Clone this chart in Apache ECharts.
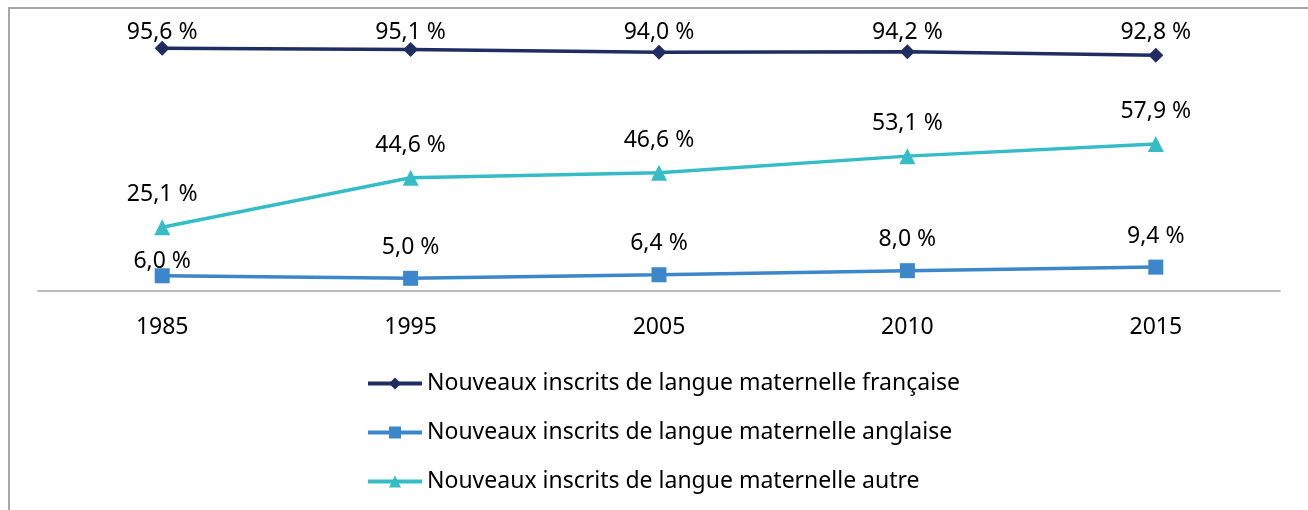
<!DOCTYPE html>
<html>
<head>
<meta charset="utf-8">
<script src="https://cdn.jsdelivr.net/npm/echarts@6/dist/echarts.min.js"></script>
<style>
    html, body { margin: 0; padding: 0; background: #fff; }
    #chart { width: 1308px; height: 510px; }
</style>
</head>
<body>
<div id="chart"></div>
<script>
    // années
    var years = ['1985', '1995', '2005', '2010', '2015'];
    // part des nouveaux inscrits (%)
    var francais = [95.6, 95.1, 94.0, 94.2, 92.8];
    var anglais = [6.0, 5.0, 6.4, 8.0, 9.4];
    var autre = [25.1, 44.6, 46.6, 53.1, 57.9];
    var seriesNames = [
        'Nouveaux inscrits de langue maternelle française',
        'Nouveaux inscrits de langue maternelle anglaise',
        'Nouveaux inscrits de langue maternelle autre'
    ];

    var font = '"Noto Sans", sans-serif';
    var fs = 23;

    function fmt(p) {
        return p.value.toFixed(1).replace('.', ',') + ' %';
    }

    function lineSeries(name, values, color, symbol, size, dist) {
        return {
            name: name,
            type: 'line',
            data: values,
            symbol: symbol,
            symbolSize: size,
            lineStyle: { color: color, width: 3.5 },
            itemStyle: { color: color },
            label: {
                show: true,
                position: 'top',
                distance: dist,
                color: '#000',
                fontFamily: font,
                fontSize: fs,
                lineHeight: fs,
                formatter: fmt
            },
            emphasis: { disabled: true },
            animation: false
        };
    }

    // étiquettes : écarts par point
    function withDistances(series, values, dists) {
        series.data = values.map(function (v, i) {
            return { value: v, label: { distance: dists[i] } };
        });
        return series;
    }

    var chart = echarts.init(document.getElementById('chart'));
    var francaisSeries = withDistances(
        lineSeries(seriesNames[0], francais, '#1F2D62', 'diamond', 15, -3),
        francais, [-3, -2, 1, 0, 4]);
    var anglaisSeries = withDistances(
        lineSeries(seriesNames[1], anglais, '#3B87CA', 'rect', 15, 12),
        anglais, [-5, 12, 12, 12, 12]);

    chart.setOption({
        animation: false,
        graphic: [{
            type: 'rect',
            shape: { x: 9, y: 8, width: 1320, height: 520 },
            style: { fill: 'none', stroke: '#a6a6a6', lineWidth: 2 },
            silent: true
        }],
        grid: { left: 38, right: 28, top: 37, bottom: 219 },
        legend: {
            orient: 'vertical',
            left: 361,
            top: 367,
            itemGap: 26,
            itemWidth: 54,
            itemHeight: 15,
            lineStyle: { width: 4 },
            textStyle: { fontFamily: font, fontSize: fs, color: '#000' },
            data: seriesNames
        },
        xAxis: {
            type: 'category',
            data: years,
            boundaryGap: true,
            axisLine: { lineStyle: { color: '#a6a6a6', width: 1.5 } },
            axisTick: { show: false },
            axisLabel: { color: '#000', fontFamily: font, fontSize: fs, margin: 25 }
        },
        yAxis: {
            type: 'value',
            min: 0,
            max: 100,
            show: false,
            splitLine: { show: false }
        },
        series: [
            francaisSeries,
            anglaisSeries,
            lineSeries(seriesNames[2], autre, '#36BCC6', 'triangle', 16, 13)
        ]
    });
</script>
</body>
</html>
